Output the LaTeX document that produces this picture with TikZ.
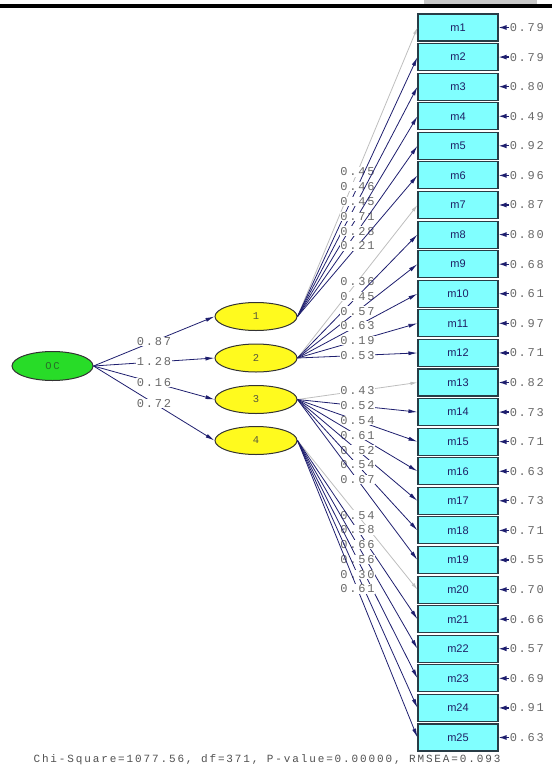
\documentclass[tikz,border=0pt]{standalone}
\usepackage{fontspec}
\usetikzlibrary{shapes.geometric,arrows.meta}
\newfontfamily\lsmono[LetterSpace=15]{Liberation Mono}
\newfontfamily\lschi[LetterSpace=17]{Liberation Mono}
\newfontfamily\lssans{Liberation Sans}
\definecolor{boxfill}{RGB}{128,255,255}
\definecolor{boxborder}{RGB}{40,60,70}
\definecolor{boxtext}{RGB}{30,30,100}
\definecolor{latyellow}{RGB}{255,250,30}
\definecolor{ocgreen}{RGB}{40,220,40}
\definecolor{octext}{RGB}{40,110,40}
\definecolor{lattext}{RGB}{90,90,60}
\definecolor{pathblue}{RGB}{30,30,110}
\definecolor{fixgray}{RGB}{190,190,190}
\definecolor{valgray}{RGB}{105,105,105}
\definecolor{chigray}{RGB}{80,80,80}
\definecolor{bargray}{RGB}{200,200,200}
\tikzset{
  obs/.style={draw=boxborder, fill=boxfill, line width=1.1pt, minimum width=80pt, minimum height=27pt, inner sep=0pt, text=boxtext, font=\lssans\fontsize{11}{12}\selectfont},
  lat/.style={ellipse, draw=black!80, fill=latyellow, line width=1pt, minimum width=82pt, minimum height=28pt, inner sep=0pt, text=lattext, font=\lsmono\fontsize{10.5}{12}\selectfont},
  ocnode/.style={lat, fill=ocgreen, minimum width=81pt, minimum height=29pt, text=octext},
  load/.style={draw=pathblue, line width=0.8pt, -{Latex[length=9pt,width=4pt]}},
  fixload/.style={draw=fixgray, line width=0.8pt, -{Latex[length=7pt,width=3.5pt]}},
  val/.style={fill=white, inner sep=0.6pt, text=valgray, font=\lsmono\fontsize{12}{13}\selectfont},
  errarr/.style={draw=pathblue, line width=1.2pt, -{Latex[length=8pt,width=5pt]}},
}
\begin{document}
\begin{tikzpicture}[x=1pt,y=-1pt]
\useasboundingbox (0,0) rectangle (552,766);
% top bar
\fill[bargray] (424,0) rectangle (537,3.5);
\fill[black] (0,3.5) rectangle (552,7.5);
% observed variables
\foreach \i/\e in {1/0.79,2/0.79,3/0.80,4/0.49,5/0.92,6/0.96,7/0.87,8/0.80,9/0.68,10/0.61,11/0.97,12/0.71,13/0.82,14/0.73,15/0.71,16/0.63,17/0.73,18/0.71,19/0.55,20/0.70,21/0.66,22/0.57,23/0.69,24/0.91,25/0.63}{
  \node[obs] (m\i) at (458,{27.5+(\i-1)*29.583}) {m\i};
  \node[val, fill=none, anchor=west, inner sep=1pt] (v\i) at ([xshift=10pt]m\i.east) {\e};
  \draw[errarr] (v\i.west) -- (m\i.east);
}
% latent variables
\node[ocnode] (OC) at (52.5,366) {OC};
\node[lat] (E1) at (256,316.5) {1};
\node[lat] (E2) at (256,358) {2};
\node[lat] (E3) at (256,399.5) {3};
\node[lat] (E4) at (256,440.5) {4};
% structural paths
\draw[load] (OC.east) -- node[val]{0.87} (E1.west);
\draw[load] (OC.east) -- node[val]{1.28} (E2.west);
\draw[load] (OC.east) -- node[val]{0.16} (E3.west);
\draw[load] (OC.east) -- node[val]{0.72} (E4.west);
% factor 1
\draw[fixload] (E1.east) -- node[val]{0.45} (m1.west);
\draw[load] (E1.east) -- node[val]{0.46} (m2.west);
\draw[load] (E1.east) -- node[val]{0.45} (m3.west);
\draw[load] (E1.east) -- node[val]{0.71} (m4.west);
\draw[load] (E1.east) -- node[val]{0.28} (m5.west);
\draw[load] (E1.east) -- node[val]{0.21} (m6.west);
% factor 2
\draw[fixload] (E2.east) -- node[val]{0.36} (m7.west);
\draw[load] (E2.east) -- node[val]{0.45} (m8.west);
\draw[load] (E2.east) -- node[val]{0.57} (m9.west);
\draw[load] (E2.east) -- node[val]{0.63} (m10.west);
\draw[load] (E2.east) -- node[val]{0.19} (m11.west);
\draw[load] (E2.east) -- node[val]{0.53} (m12.west);
% factor 3
\draw[fixload] (E3.east) -- node[val]{0.43} (m13.west);
\draw[load] (E3.east) -- node[val]{0.52} (m14.west);
\draw[load] (E3.east) -- node[val]{0.54} (m15.west);
\draw[load] (E3.east) -- node[val]{0.61} (m16.west);
\draw[load] (E3.east) -- node[val]{0.52} (m17.west);
\draw[load] (E3.east) -- node[val]{0.54} (m18.west);
\draw[load] (E3.east) -- node[val]{0.67} (m19.west);
% factor 4
\draw[fixload] (E4.east) -- node[val]{0.54} (m20.west);
\draw[load] (E4.east) -- node[val]{0.58} (m21.west);
\draw[load] (E4.east) -- node[val]{0.66} (m22.west);
\draw[load] (E4.east) -- node[val]{0.56} (m23.west);
\draw[load] (E4.east) -- node[val]{0.30} (m24.west);
\draw[load] (E4.east) -- node[val]{0.61} (m25.west);
% fit statistics
\node[font=\lschi\fontsize{11}{12}\selectfont, text=chigray, inner sep=0pt] (chi) at (267,760) {Chi-Square=1077.56, df=371, P-value=0.00000, RMSEA=0.093};
\end{tikzpicture}
\end{document}
